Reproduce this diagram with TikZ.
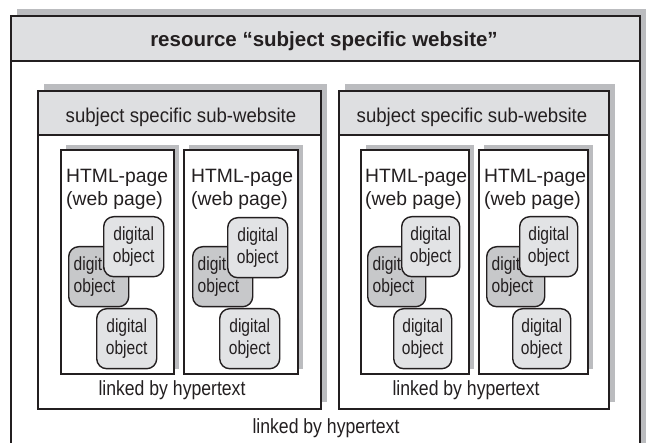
\documentclass[tikz,border=0pt]{standalone}
\usepackage{fontspec}
\setmainfont{Liberation Sans}
\newfontfamily\objfont[FakeStretch=0.82]{Liberation Sans}
\newfontfamily\linkfont[FakeStretch=0.86]{Liberation Sans}
\newfontfamily\subfont[FakeStretch=0.93]{Liberation Sans}
\usetikzlibrary{shadows}

\definecolor{ink}{RGB}{35,31,32}
\definecolor{bandgray}{RGB}{222,223,225}
\definecolor{shadegray}{RGB}{187,188,191}
\definecolor{objlight}{RGB}{226,227,229}
\definecolor{objdark}{RGB}{199,200,202}

\begin{document}
\begin{tikzpicture}[x=1pt,y=-1pt,
  every node/.style={text=ink},
  frame/.style={draw=ink,line width=2pt,fill=white,inner sep=0pt,anchor=north west,
    drop shadow={shadow xshift=6pt,shadow yshift=7pt,fill=shadegray,opacity=1}},
  band/.style={draw=ink,line width=2pt,fill=bandgray,inner sep=0pt,anchor=north west},
  webpage/.style={draw=ink,line width=1.8pt,fill=white,inner sep=0pt,anchor=north west,
    minimum height=224pt,
    drop shadow={shadow xshift=5pt,shadow yshift=5pt,fill=shadegray,opacity=1}},
  pagetext/.style={anchor=base west,inner sep=0pt,font=\fontsize{19.3}{23}\selectfont},
  dobj/.style={draw=ink,line width=1.4pt,rounded corners=10pt,anchor=north west,
    inner sep=0pt,minimum height=60pt,align=center,
    font=\objfont\fontsize{19}{22}\selectfont},
  front/.style={dobj,fill=objlight,minimum width=#1},
  back/.style={dobj,fill=objdark,minimum width=#1,text width=#1-10pt,align=left,inner xsep=5pt},
  linktext/.style={anchor=base,inner sep=0pt,font=\linkfont\fontsize{20.5}{24}\selectfont},
  subtitle/.style={anchor=base,inner sep=0pt,font=\subfont\fontsize{20}{24}\selectfont},
]
\clip (0,0) rectangle (646,443);

% whole resource
\node[frame,minimum width=629pt,minimum height=470pt] (site) at (10,15) {};
\node[band,minimum width=629pt,minimum height=45pt] (siteband) at (10,15) {};
\node[anchor=base,inner sep=0pt,font=\bfseries\fontsize{20.5}{24}\selectfont] (sitetitle) at (324,47)
  {resource “subject specific website”};

% left sub-website
\node[frame,minimum width=283pt,minimum height=318pt] (subL) at (37,90) {};
\node[band,minimum width=283pt,minimum height=44pt] (subLband) at (37,90) {};
\node[subtitle] (subLtitle) at (181,123) {subject specific sub-website};

\node[webpage,minimum width=113pt] (pL1) at (60,149) {};
\node[pagetext] (pL1a) at (66,183) {HTML-page};
\node[pagetext] (pL1b) at (66,206) {(web page)};
\node[back=60pt] (oL1a) at (68,246) {digital\\object};
\node[front=60pt] (oL1b) at (103,216) {digital\\object};
\node[front=60pt] (oL1c) at (96,308) {digital\\object};

\node[webpage,minimum width=114pt] (pL2) at (183,149) {};
\node[pagetext] (pL2a) at (191,183) {HTML-page};
\node[pagetext] (pL2b) at (191,206) {(web page)};
\node[back=60pt] (oL2a) at (192,246) {digital\\object};
\node[front=60pt] (oL2b) at (227,217) {digital\\object};
\node[front=60pt] (oL2c) at (219,308) {digital\\object};

\node[linktext] (subLlink) at (172,396) {linked by hypertext};

% right sub-website
\node[frame,minimum width=270pt,minimum height=318pt] (subR) at (338,90) {};
\node[band,minimum width=270pt,minimum height=44pt] (subRband) at (338,90) {};
\node[subtitle] (subRtitle) at (472,123) {subject specific sub-website};

\node[webpage,minimum width=108pt] (pR1) at (360,149) {};
\node[pagetext] (pR1a) at (365,183) {HTML-page};
\node[pagetext] (pR1b) at (365,206) {(web page)};
\node[back=58pt] (oR1a) at (367,246) {digital\\object};
\node[front=58pt] (oR1b) at (401,216) {digital\\object};
\node[front=58pt] (oR1c) at (393,308) {digital\\object};

\node[webpage,minimum width=109pt] (pR2) at (478,149) {};
\node[pagetext] (pR2a) at (484,183) {HTML-page};
\node[pagetext] (pR2b) at (484,206) {(web page)};
\node[back=58pt] (oR2a) at (486,246) {digital\\object};
\node[front=58pt] (oR2b) at (519,216) {digital\\object};
\node[front=58pt] (oR2c) at (512,308) {digital\\object};

\node[linktext] (subRlink) at (466,396) {linked by hypertext};

% link note for the whole resource
\node[linktext] (sitelink) at (326,434) {linked by hypertext};
\end{tikzpicture}
\end{document}
